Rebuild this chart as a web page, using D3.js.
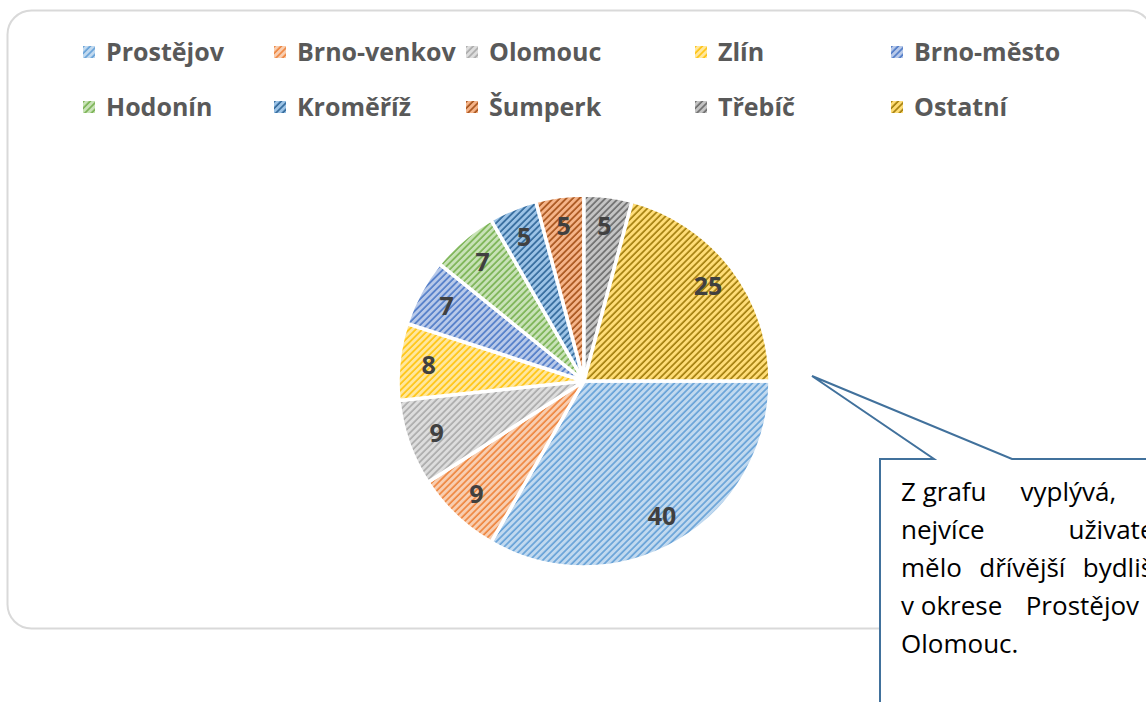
<!DOCTYPE html>
<html>
<head>
<meta charset="utf-8">
<script src="https://cdn.jsdelivr.net/npm/d3@7"></script>
<style>
  body { margin: 0; background: #fff; }
  svg { display: block; }
</style>
</head>
<body>
<div id="chart"></div>
<script>
// data
var categories = ["Prostějov", "Brno-venkov", "Olomouc", "Zlín", "Brno-město",
                  "Hodonín", "Kroměříž", "Šumperk", "Třebíč", "Ostatní"];
var values = [40, 9, 9, 8, 7, 7, 5, 5, 5, 25];
var colors = ["#5B9BD5", "#ED7D31", "#A5A5A5", "#FFC000", "#4472C4",
              "#70AD47", "#255E91", "#9E480E", "#636363", "#997300"];
var calloutLines = ["Z\u00a0grafu vyplývá, že", "nejvíce uživatelů", "mělo dřívější bydliště",
                    "v\u00a0okrese Prostějov a", "Olomouc."];

var svgWidth = 1146;
var svgHeight = 702;

var svg = d3.select("#chart")
    .append("svg")
    .attr("width", svgWidth)
    .attr("height", svgHeight);

var data = categories.map(function(c, i) {
    return { name: c, value: values[i], color: colors[i], id: "pat" + i };
});

// hatch patterns (wide upward diagonal), light tint of the colour underneath
var defs = svg.append("defs");
var tile = 4.6;
data.forEach(function(d) {
    var h = d3.hsl(d.color);
    h.l = h.l + (1 - h.l) * 0.62;
    var p = defs.append("pattern")
        .attr("id", d.id)
        .attr("patternUnits", "userSpaceOnUse")
        .attr("width", tile)
        .attr("height", tile)
        .attr("patternTransform", "rotate(45)");
    p.append("rect")
        .attr("width", tile)
        .attr("height", tile)
        .attr("fill", h.formatHex());
    p.append("line")
        .attr("x1", 1).attr("y1", 0)
        .attr("x2", 1).attr("y2", tile)
        .attr("stroke", d.color)
        .attr("stroke-width", 1.5);
});

// chart border
svg.append("rect")
    .attr("x", 7.5)
    .attr("y", 10.5)
    .attr("width", 1145)
    .attr("height", 618)
    .attr("rx", 24)
    .attr("fill", "#fff")
    .attr("stroke", "#D9D9D9")
    .attr("stroke-width", 2);

// legend
var legendCols = [83, 274, 466, 695, 891];
var legendRows = [52, 107];
var legend = svg.append("g").selectAll("g")
    .data(data)
    .enter()
    .append("g")
    .attr("transform", function(d, i) {
        return "translate(" + legendCols[i % 5] + "," + legendRows[Math.floor(i / 5)] + ")";
    });

legend.append("rect")
    .attr("x", 0)
    .attr("y", -6)
    .attr("width", 12)
    .attr("height", 12)
    .attr("fill", function(d) { return "url(#" + d.id + ")"; });

legend.append("text")
    .attr("x", 23)
    .attr("y", 9)
    .attr("font-family", "'Open Sans', sans-serif")
    .attr("font-weight", "bold")
    .attr("font-size", 25)
    .attr("fill", "#595959")
    .text(function(d) { return d.name; });

// pie
var cx = 584, cy = 381, radius = 186;

var pie = d3.pie()
    .sort(null)
    .value(function(d) { return d.value; })
    .startAngle(Math.PI / 2)
    .endAngle(Math.PI / 2 + 2 * Math.PI);

var arc = d3.arc().innerRadius(0).outerRadius(radius);
var labelArc = d3.arc().innerRadius(radius * 0.84).outerRadius(radius * 0.84);

var pieGroup = svg.append("g")
    .attr("transform", "translate(" + cx + "," + cy + ")");

var arcs = pie(data);

pieGroup.selectAll("path")
    .data(arcs)
    .enter()
    .append("path")
    .attr("d", arc)
    .attr("fill", function(d) { return "url(#" + d.data.id + ")"; })
    .attr("stroke", "#fff")
    .attr("stroke-width", 3.5)
    .attr("stroke-linejoin", "round");

pieGroup.selectAll("text")
    .data(arcs)
    .enter()
    .append("text")
    .attr("transform", function(d) { return "translate(" + labelArc.centroid(d) + ")"; })
    .attr("text-anchor", "middle")
    .attr("dy", "0.36em")
    .attr("font-family", "'Open Sans', sans-serif")
    .attr("font-weight", "bold")
    .attr("font-size", 25)
    .attr("fill", "#404040")
    .text(function(d) { return d.data.value; });

// callout
var callout = svg.append("g");
var bx = 880, by = 459, bRight = 1210, bBottom = 760;
var tip = [812, 376];
callout.append("path")
    .attr("d", d3.line()([
        [bx, by], [934, by], tip, [1012, by], [bRight, by],
        [bRight, bBottom], [bx, bBottom]
    ]) + "Z")
    .attr("fill", "#fff")
    .attr("stroke", "#41719C")
    .attr("stroke-width", 2)
    .attr("stroke-linejoin", "miter");

// justified text
var textLeft = 901, textRight = 1177, firstBase = 501, lineStep = 38;
calloutLines.forEach(function(line, li) {
    var words = line.split(" ");
    var y = firstBase + li * lineStep;
    var nodes = words.map(function(w) {
        return callout.append("text")
            .attr("y", y)
            .attr("font-family", "'Open Sans', sans-serif")
            .attr("font-size", 26)
            .attr("fill", "#000")
            .text(w);
    });
    var widths = nodes.map(function(n) { return n.node().getComputedTextLength(); });
    var total = d3.sum(widths);
    var last = li === calloutLines.length - 1;
    var gap = (!last && words.length > 1) ? (textRight - textLeft - total) / (words.length - 1) : 7;
    var x = textLeft;
    nodes.forEach(function(n, i) {
        n.attr("x", x);
        x += widths[i] + gap;
    });
});
</script>
</body>
</html>
